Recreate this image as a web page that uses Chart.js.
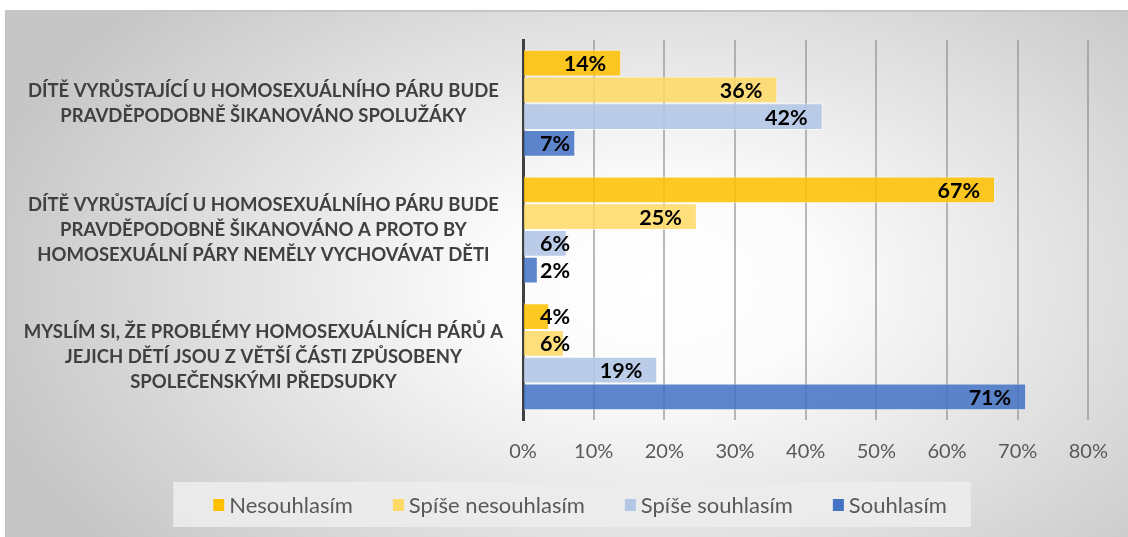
<!DOCTYPE html>
<html lang="cs">
<head>
  <meta charset="UTF-8">
  <title>Postoje k homoparentalitě</title>
  <script src="https://cdn.jsdelivr.net/npm/chart.js"></script>
  <style>
    html, body { margin: 0; padding: 0; background: #ffffff; }
    body { width: 1128px; height: 537px; position: relative; overflow: hidden; }
    .frame {
      position: absolute; left: 5px; top: 10px; width: 1123px; height: 527px;
      box-sizing: border-box;
      border-top: 2px solid #c4c4c4; border-left: 2px solid #c4c4c4;
      background: radial-gradient(ellipse 62% 80% at 58% 52%, #ffffff 0%, #fbfbfb 25%, #c6c6c6 100%);
    }
    #chart { position: absolute; left: 0; top: 0; }
  </style>
</head>
<body>
  <div class="frame"></div>
  <canvas id="chart" width="1128" height="537"></canvas>

  <script>
    const categories = [
      ['DÍTĚ VYRŮSTAJÍCÍ U HOMOSEXUÁLNÍHO PÁRU BUDE', 'PRAVDĚPODOBNĚ ŠIKANOVÁNO SPOLUŽÁKY'],
      ['DÍTĚ VYRŮSTAJÍCÍ U HOMOSEXUÁLNÍHO PÁRU BUDE', 'PRAVDĚPODOBNĚ ŠIKANOVÁNO A PROTO BY', 'HOMOSEXUÁLNÍ PÁRY NEMĚLY VYCHOVÁVAT DĚTI'],
      ['MYSLÍM SI, ŽE PROBLÉMY HOMOSEXUÁLNÍCH PÁRŮ A', 'JEJICH DĚTÍ JSOU Z VĚTŠÍ ČÁSTI ZPŮSOBENY', 'SPOLEČENSKÝMI PŘEDSUDKY']
    ];
    const seriesNames = ['Nesouhlasím', 'Spíše nesouhlasím', 'Spíše souhlasím', 'Souhlasím'];
    const nesouhlasim = [13.9, 66.8, 3.7];
    const spiseNesouhlasim = [36.0, 24.6, 5.8];
    const spiseSouhlasim = [42.4, 6.2, 19.0];
    const souhlasim = [7.4, 2.1, 71.2];
    const xTickLabels = ['0%', '10%', '20%', '30%', '40%', '50%', '60%', '70%', '80%'];

    const colors = ['rgba(255,192,0,0.86)', 'rgba(255,217,102,0.86)', 'rgba(180,199,231,0.9)', 'rgba(68,114,196,0.86)'];
    const swatches = ['#ffc000', '#ffd966', '#b4c7e7', '#4472c4'];

    // popisky hodnot uvnitř konce sloupce
    const valueLabels = {
      id: 'valueLabels',
      afterDatasetsDraw(chart) {
        const ctx = chart.ctx;
        ctx.save();
        ctx.font = 'bold 21.5px Lato';
        ctx.fillStyle = '#000000';
        ctx.textAlign = 'right';
        ctx.textBaseline = 'middle';
        chart.data.datasets.forEach((ds, i) => {
          chart.getDatasetMeta(i).data.forEach((bar, j) => {
            const txt = Math.round(ds.data[j]) + '%';
            const w = ctx.measureText(txt).width;
            let right = bar.x - 15;
            if (right - w < bar.base + 16) right = bar.base + 16 + w;
            ctx.fillText(txt, right, bar.y + 1);
          });
        });
        ctx.restore();
      }
    };

    // legenda v šedém rámečku
    const boxLegend = {
      id: 'boxLegend',
      afterDraw(chart) {
        const ctx = chart.ctx;
        ctx.save();
        ctx.font = '22px Lato';
        const sq = 11, gapText = 5, gapItem = 40;
        const widths = chart.data.datasets.map(ds => sq + gapText + ctx.measureText(ds.label).width);
        const itemsW = widths.reduce((a, b) => a + b, 0) + gapItem * (widths.length - 1);
        const boxW = itemsW + 64;
        const boxL = 572 - boxW / 2;
        ctx.fillStyle = 'rgba(236,236,236,0.9)';
        ctx.fillRect(boxL, 482, boxW, 45);
        let x = boxL + 40;
        const cy = 505;
        chart.data.datasets.forEach((ds, i) => {
          ctx.fillStyle = swatches[i];
          ctx.fillRect(x, cy - 6, sq, 12);
          ctx.fillStyle = '#595959';
          ctx.textAlign = 'left';
          ctx.textBaseline = 'middle';
          ctx.fillText(ds.label, x + sq + gapText, cy + 1);
          x += widths[i] + gapItem;
        });
        ctx.restore();
      }
    };

    const values = [nesouhlasim, spiseNesouhlasim, spiseSouhlasim, souhlasim];

    new Chart(document.getElementById('chart'), {
      type: 'bar',
      data: {
        labels: categories,
        datasets: seriesNames.map((name, i) => ({
          label: name,
          data: values[i],
          backgroundColor: colors[i],
          borderColor: 'rgba(255,255,255,0.55)',
          borderWidth: 1,
          categoryPercentage: 0.845,
          barPercentage: 1
        }))
      },
      options: {
        indexAxis: 'y',
        responsive: false,
        animation: false,
        layout: { padding: { left: 20, right: 38, top: 40, bottom: 73 } },
        plugins: {
          legend: { display: false },
          tooltip: { enabled: false }
        },
        scales: {
          x: {
            min: 0,
            max: 80,
            afterFit: s => { s.height = 44; },
            ticks: {
              stepSize: 10,
              padding: 20,
              color: '#595959',
              font: { family: 'Lato', size: 20 },
              callback: (v, idx) => xTickLabels[idx]
            },
            grid: { color: 'rgba(140,140,140,0.6)', lineWidth: 2, drawTicks: false },
            border: { display: false }
          },
          y: {
            afterFit: s => { s.width = 503; s.paddingTop = 0; s.paddingBottom = 0; },
            ticks: {
              autoSkip: false,
              crossAlign: 'center',
              padding: 20,
              color: '#404040',
              font: { family: 'Lato', size: 18.5, weight: 'bold', lineHeight: 1.35 }
            },
            grid: { display: false, drawTicks: false },
            border: { display: true, color: '#404040', width: 3 }
          }
        }
      },
      plugins: [valueLabels, boxLegend]
    });
  </script>
</body>
</html>
